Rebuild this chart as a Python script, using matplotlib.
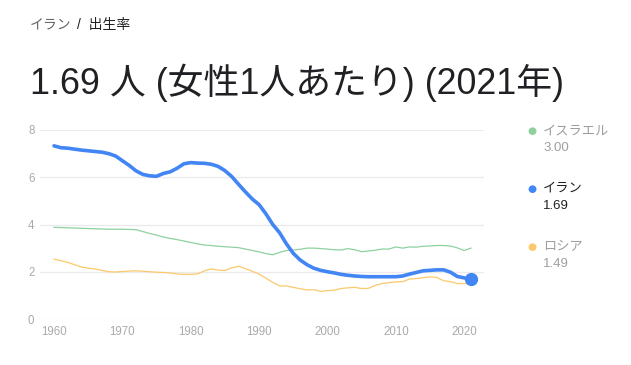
import numpy as np
import matplotlib.pyplot as plt

# データ (1960-2021)
years = list(range(1960, 2022))

iran = [7.33, 7.25, 7.23, 7.19, 7.15, 7.12, 7.09, 7.06, 7.00, 6.90,
        6.70, 6.50, 6.27, 6.12, 6.06, 6.04, 6.16, 6.23, 6.38, 6.57,
        6.62, 6.60, 6.59, 6.55, 6.46, 6.28, 6.03, 5.70, 5.38, 5.08,
        4.84, 4.45, 4.00, 3.65, 3.18, 2.78, 2.50, 2.30, 2.15, 2.06,
        2.00, 1.95, 1.89, 1.85, 1.82, 1.80, 1.79, 1.79, 1.79, 1.79,
        1.79, 1.82, 1.90, 1.97, 2.04, 2.06, 2.08, 2.08, 1.98, 1.80,
        1.74, 1.69]

israel = [3.88, 3.87, 3.86, 3.85, 3.84, 3.83, 3.82, 3.81, 3.80, 3.80,
          3.80, 3.79, 3.78, 3.70, 3.62, 3.55, 3.47, 3.41, 3.36, 3.30,
          3.24, 3.18, 3.13, 3.11, 3.08, 3.06, 3.04, 3.02, 2.96, 2.90,
          2.84, 2.77, 2.72, 2.82, 2.90, 2.92, 2.95, 3.00, 3.00, 2.98,
          2.96, 2.93, 2.92, 2.98, 2.93, 2.85, 2.88, 2.91, 2.96, 2.96,
          3.05, 3.00, 3.05, 3.04, 3.08, 3.09, 3.11, 3.11, 3.09, 3.01,
          2.90, 3.00]

russia = [2.53, 2.47, 2.40, 2.30, 2.20, 2.15, 2.12, 2.06, 2.00, 1.99,
          2.01, 2.03, 2.04, 2.02, 2.00, 1.98, 1.97, 1.95, 1.91, 1.89,
          1.89, 1.91, 2.04, 2.12, 2.07, 2.05, 2.17, 2.23, 2.13, 2.02,
          1.90, 1.73, 1.55, 1.40, 1.40, 1.34, 1.28, 1.23, 1.24, 1.17,
          1.20, 1.22, 1.29, 1.32, 1.34, 1.29, 1.30, 1.42, 1.50, 1.54,
          1.57, 1.58, 1.69, 1.71, 1.75, 1.78, 1.76, 1.62, 1.58, 1.50,
          1.50, 1.49]

names = ['イスラエル', 'イラン', 'ロシア']
values = ['3.00', '1.69', '1.49']
colors = ['#8fd19e', '#4285f4', '#fbc96b']

fonts = ['Liberation Sans', 'Noto Sans CJK JP']
plt.rcParams['font.family'] = fonts

fig = plt.figure(figsize=(6.31, 3.65), dpi=100)
ax = fig.add_axes([40/631, 46/365, 444/631, 189/365])

ax.plot(years, israel, color=colors[0], lw=0.9)
ax.plot(years, russia, color=colors[2], lw=0.9)
ax.plot(years, iran, color=colors[1], lw=2.6, solid_capstyle='round')
ax.plot(years[-1], iran[-1], 'o', color=colors[1], ms=8.5)

ax.set_xlim(1957.95, 2022.9)
ax.set_ylim(0, 8)
ax.set_yticks([0, 2, 4, 6, 8])
ax.set_xticks(range(1960, 2030, 10))
ax.grid(axis='y', color='#ebebeb', lw=1)
ax.set_axisbelow(True)
for s in ax.spines.values():
    s.set_visible(False)
ax.tick_params(length=0, labelsize=8.3, colors='#aaaaaa', pad=4)
ax.tick_params(axis='x', pad=5)

# タイトル
fig.text(30/631, 1 - 25/365, 'イラン', fontsize=10, color='#666666', va='center')
fig.text(77/631, 1 - 25/365, '/  出生率', fontsize=10, color='#222222', va='center')
fig.text(30/631, 1 - 83/365, '1.69 人 (女性1人あたり) (2021年)', fontsize=25.8,
         color='#202124', va='center')

# 凡例
ys = [131, 189, 247]
for i in range(3):
    y = 1 - ys[i]/365
    fig.text(532/631, y, '●', fontsize=7.5, color=colors[i], va='center', ha='center',
             family='DejaVu Sans')
    c = '#202124' if i == 1 else '#9e9e9e'
    fig.text(543/631, y, names[i], fontsize=9.5, color=c, va='center')
    fig.text(543/631, y - 17/365, values[i], fontsize=9.5, color=c, va='center')

fig.savefig('out.png', dpi=100)
